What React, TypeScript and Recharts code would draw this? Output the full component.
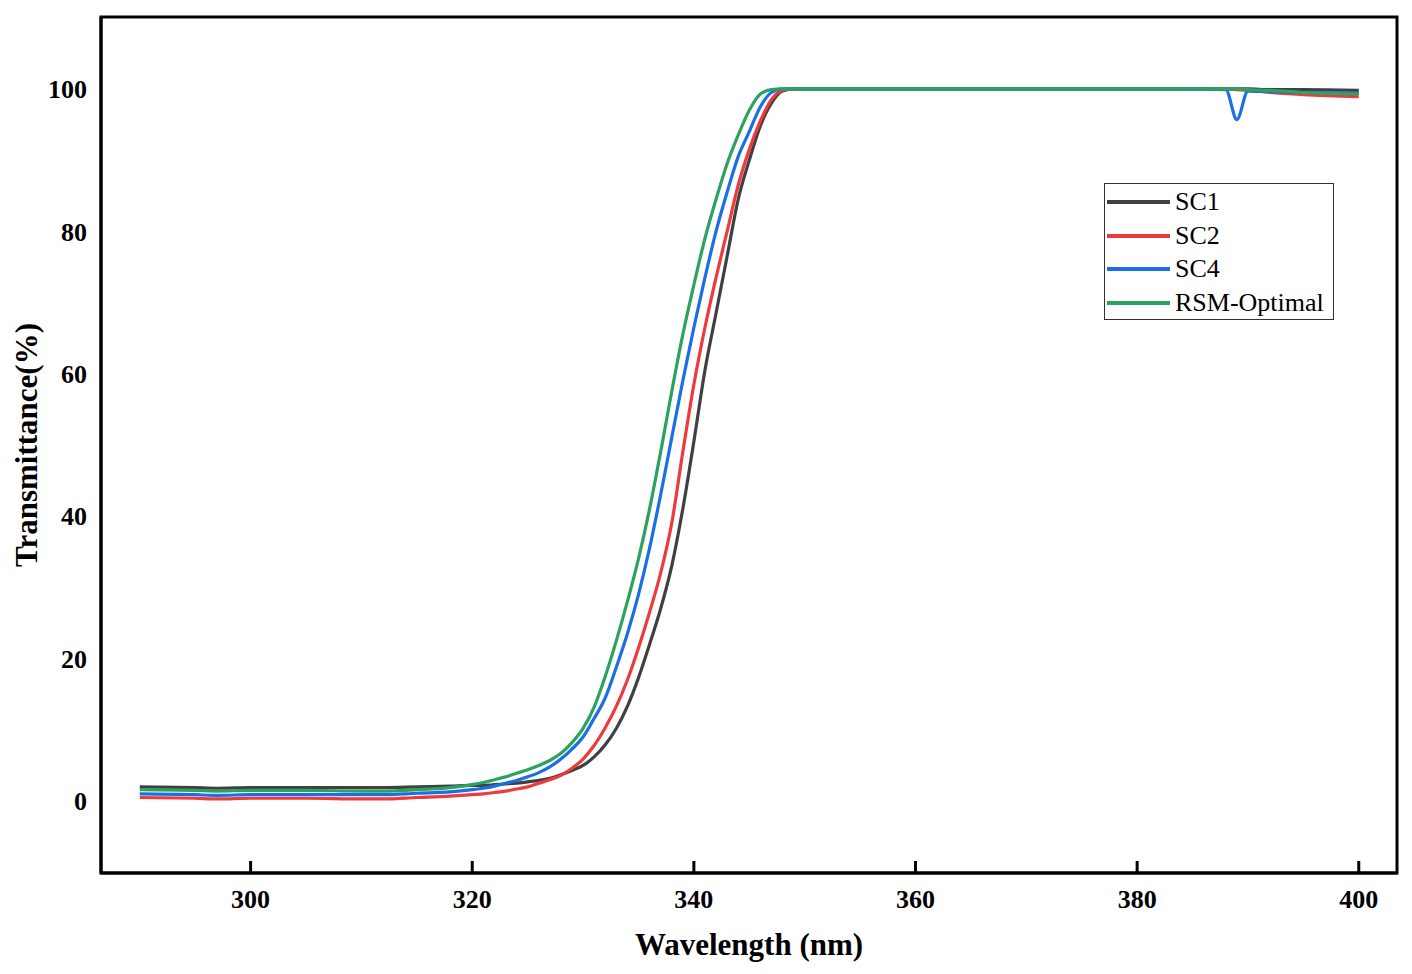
import { Label, Legend, Line, LineChart, ReferenceArea, XAxis, YAxis } from "recharts"

const FONT = "'Times New Roman', 'Liberation Serif', serif"

// wavelength (nm)
const wavelengths = [
    290, 295, 297, 300, 305, 310, 312, 315, 318,
    320, 321, 322, 323, 324, 325, 326, 327, 328, 329,
    330, 331, 332, 333, 334, 335, 336, 337, 338, 339,
    340, 341, 342, 343, 344, 345, 346, 347, 348, 349,
    350, 355, 360, 365, 370, 375, 380, 385,
    388, 389, 390, 392, 395, 400,
]

// transmittance (%)
const sc1 = [
    2.0, 1.9, 1.8, 1.9, 1.9, 1.9, 1.9, 2.0, 2.1,
    2.2, 2.2, 2.3, 2.4, 2.5, 2.7, 2.9, 3.2, 3.7, 4.3,
    5.0, 6.2, 7.9, 10.2, 13.3, 17.3, 22, 27, 33, 41,
    50.5, 60.5, 68.5, 76.5, 84.5, 90, 94.8, 98, 99.7, 100,
    100, 100, 100, 100, 100, 100, 100, 100,
    100, 100, 100, 99.9, 99.9, 99.8,
]

const sc2 = [
    0.5, 0.4, 0.3, 0.4, 0.4, 0.3, 0.3, 0.5, 0.7,
    0.9, 1.0, 1.2, 1.4, 1.7, 2.0, 2.5, 3.0, 3.6, 4.6,
    5.9, 7.8, 10.3, 13.3, 17, 21.5, 26.5, 32, 39, 49,
    58.5, 66.5, 73.5, 80, 86.5, 91.5, 95.5, 98.5, 99.8, 100,
    100, 100, 100, 100, 100, 100, 100, 100,
    100, 99.9, 99.8, 99.5, 99.2, 98.9,
]

const sc4 = [
    1.0, 0.9, 0.8, 0.9, 0.9, 0.9, 0.9, 1.1, 1.3,
    1.6, 1.8, 2.1, 2.5, 2.9, 3.4, 4.0, 4.8, 5.9, 7.3,
    9.0, 11.6, 14.5, 18.8, 23.5, 29, 35.5, 43, 51, 59,
    66.5, 73.5, 80, 85.5, 90.5, 94, 97.5, 99.5, 100, 100,
    100, 100, 100, 100, 100, 100, 100, 100,
    99.9, 95.7, 99.7, 99.6, 99.5, 99.4,
]

const rsmOptimal = [
    1.6, 1.5, 1.4, 1.5, 1.5, 1.4, 1.4, 1.6, 1.9,
    2.3, 2.6, 3.0, 3.4, 3.9, 4.4, 5.0, 5.7, 6.7, 8.2,
    10.2, 13.2, 17.5, 22.5, 28, 34, 41, 49, 57.5, 65.5,
    72.5, 79, 84.5, 89.5, 93.5, 97, 99.3, 99.9, 100, 100,
    100, 100, 100, 100, 100, 100, 100, 100,
    100, 100, 99.9, 99.8, 99.5, 99.3,
]

const xTicks = [300, 320, 340, 360, 380, 400]
const yTicks = [0, 20, 40, 60, 80, 100]

const series = [
    { key: "sc1", name: "SC1", color: "#404040" },
    { key: "sc2", name: "SC2", color: "#ee3a3a" },
    { key: "sc4", name: "SC4", color: "#1a6fe6" },
    { key: "rsm", name: "RSM-Optimal", color: "#2ca25f" },
]

const data = wavelengths.map((w, i) => ({
    w,
    sc1: sc1[i],
    sc2: sc2[i],
    sc4: sc4[i],
    rsm: rsmOptimal[i],
}))

const X_DOMAIN: [number, number] = [286.5, 403.45]
const Y_DOMAIN: [number, number] = [-10.1, 110.1]

function LegendBox() {
    return (
        <div
            style={{
                width: 228,
                height: 134,
                border: "1.5px solid #333",
                background: "#fff",
                fontFamily: FONT,
                fontSize: 26,
                color: "#000",
                paddingTop: 1,
            }}
        >
            {series.map((s) => (
                <div
                    key={s.key}
                    style={{ display: "flex", alignItems: "center", height: 33.7 }}
                >
                    <div
                        style={{
                            width: 63,
                            height: 4,
                            marginLeft: 2,
                            marginRight: 5,
                            background: s.color,
                        }}
                    />
                    <span style={{ lineHeight: "26px" }}>{s.name}</span>
                </div>
            ))}
        </div>
    )
}

export default function App() {
    return (
        <LineChart
            width={1396}
            height={958}
            data={data}
            margin={{ top: 9, right: 7, left: 0, bottom: 0 }}
        >
            <XAxis
                dataKey="w"
                type="number"
                domain={X_DOMAIN}
                ticks={xTicks}
                height={93}
                tickSize={-12}
                tickMargin={29}
                axisLine={{ stroke: "#000", strokeWidth: 3 }}
                tickLine={{ stroke: "#000", strokeWidth: 3 }}
                tick={{ fill: "#000", fontFamily: FONT, fontSize: 26, fontWeight: "bold" }}
            >
                <Label
                    value="Wavelength (nm)"
                    position="insideBottom"
                    offset={11}
                    style={{ fontFamily: FONT, fontSize: 31, fontWeight: "bold", fill: "#000" }}
                />
            </XAxis>
            <YAxis
                type="number"
                domain={Y_DOMAIN}
                ticks={yTicks}
                width={93}
                tickSize={0}
                tickMargin={14}
                tickLine={false}
                axisLine={{ stroke: "#000", strokeWidth: 3 }}
                tick={{ fill: "#000", fontFamily: FONT, fontSize: 26, fontWeight: "bold" }}
            >
                <Label
                    value="Transmittance(%)"
                    angle={-90}
                    position="insideLeft"
                    offset={18}
                    style={{
                        fontFamily: FONT,
                        fontSize: 31,
                        fontWeight: "bold",
                        fill: "#000",
                        textAnchor: "middle",
                    }}
                />
            </YAxis>
            <ReferenceArea
                x1={X_DOMAIN[0]}
                x2={X_DOMAIN[1]}
                y1={Y_DOMAIN[0]}
                y2={Y_DOMAIN[1]}
                fill="none"
                stroke="#000"
                strokeWidth={3}
                ifOverflow="visible"
            />
            {series.map((s) => (
                <Line
                    key={s.key}
                    dataKey={s.key}
                    name={s.name}
                    type="monotone"
                    stroke={s.color}
                    strokeWidth={3.2}
                    dot={false}
                    activeDot={false}
                    isAnimationActive={false}
                />
            ))}
            <Legend
                layout="horizontal"
                verticalAlign="middle"
                align="center"
                content={() => <LegendBox />}
                wrapperStyle={{ left: 1096, top: 175, width: "auto" }}
            />
        </LineChart>
    )
}
